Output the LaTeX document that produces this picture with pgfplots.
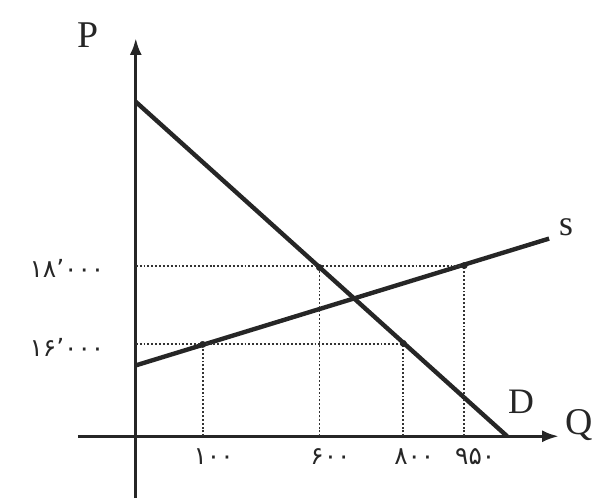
\documentclass[border=0pt]{standalone}
\usepackage{fontspec}
\setmainfont{Liberation Serif}
\newfontfamily\pf[Script=Arabic]{DejaVu Sans}
\usepackage{pgfplots}
\pgfplotsset{compat=1.18}
\usetikzlibrary{arrows.meta}
\definecolor{ink}{HTML}{262626}
\definecolor{dots}{HTML}{333333}
\begin{document}
\begin{tikzpicture}
\begin{axis}[
  scale only axis, width=482bp, height=461bp,
  xmin=-58, xmax=424, ymin=-62, ymax=399,
  enlargelimits=false,
  axis lines=middle,
  axis line style={ink, line width=3.2bp, -{Latex[length=17bp,width=12bp]}},
  xtick={67,184,268,329},
  xticklabels={\mbox{۱۰۰},\mbox{۶۰۰},\mbox{۸۰۰},\mbox{۹۵۰}},
  ytick={92,171},
  yticklabels={\mbox{۱۶٬۰۰۰},\mbox{۱۸٬۰۰۰}},
  major tick length=0pt,
  tick style={draw=none},
  xticklabel style={font=\pf\fontsize{25}{26}\selectfont, text=ink, anchor=north, yshift=-9bp, xshift=11bp},
  yticklabel style={font=\pf\fontsize{25}{26}\selectfont, text=ink, anchor=east, xshift=-28bp, yshift=-3bp},
  clip=false,
]
\path (axis cs:-136,-62) rectangle (axis cs:460,437);
% demand
\addplot[ink, line width=4.4bp] coordinates {(0,335) (372,0)};
% supply
\addplot[ink, line width=4.4bp] coordinates {(0,71) (414,198)};
% guides
\addplot[dots, line width=1.9bp, dotted] coordinates {(0,171) (329,171)};
\addplot[dots, line width=1.9bp, dotted] coordinates {(0,92) (268,92)};
\addplot[dots, line width=1.9bp, dotted] coordinates {(67,0) (67,92)};
\addplot[dots, line width=1.9bp, dotted] coordinates {(184,0) (184,171)};
\addplot[dots, line width=1.9bp, dotted] coordinates {(268,0) (268,92)};
\addplot[dots, line width=1.9bp, dotted] coordinates {(329,0) (329,171)};
\addplot[ink, only marks, mark=*, mark size=3.2bp] coordinates {(67,92) (184,169) (268,93) (329,171)};
\node[font=\fontsize{38}{40}\selectfont, text=ink] at (axis cs:-48,402) {P};
\node[font=\fontsize{38}{40}\selectfont, text=ink] at (axis cs:444,11) {Q};
\node[font=\fontsize{36}{40}\selectfont, text=ink] at (axis cs:386,35) {D};
\node[font=\fontsize{36}{40}\selectfont, text=ink] at (axis cs:431,209) {s};
\end{axis}
\end{tikzpicture}
\end{document}
